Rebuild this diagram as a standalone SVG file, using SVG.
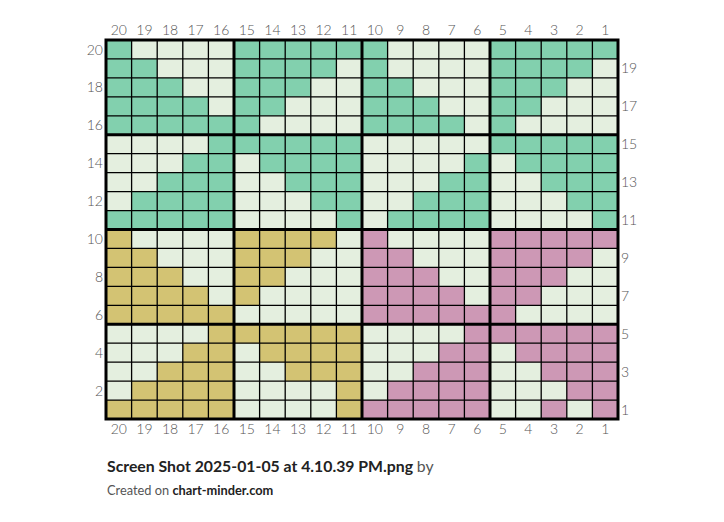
<svg xmlns="http://www.w3.org/2000/svg" width="724" height="522" viewBox="0 0 724 522">
<style>
.g{fill:#82d0ae}.y{fill:#d3c373}.p{fill:#cd98b5}.bg{fill:#e4efdf}
.thin{fill:none;stroke:#000;stroke-width:1.3}
.thick{fill:none;stroke:#000;stroke-width:3}
.lab{font-family:Lato,"Liberation Sans",sans-serif;font-size:14px;font-weight:300;fill:#555}
.t{font-family:Lato,"Liberation Sans",sans-serif;fill:#222}
</style>
<rect width="724" height="522" fill="#fff"/>
<g id="chart" transform="translate(106,40) scale(25.6,18.95)">
  <rect class="bg" x="0" y="0" width="20" height="20"/>
  <g id="green">
    <path class="g" d="M0,0H1V1H2V2H3V3H4V4H5V5H0Z M5,0H10V1H9V2H8V3H7V4H6V5H5Z M10,0H11V2H12V3H13V4H14V5H10Z M15,0H20V1H19V2H18V3H17V4H16V5H15Z M4,5H5V10H0V9H1V8H2V7H3V6H4Z M5,5H10V10H9V9H8V8H7V7H6V6H5Z M14,6H15V10H11V9H12V8H13V7H14Z M15,5H20V10H19V9H18V8H17V7H16V6H15Z"/>
  </g>
  <g id="yellow">
    <path class="y" d="M0,10H1V11H2V12H3V13H4V14H5V15H0Z M5,10H9V11H8V12H7V13H6V14H5Z M4,15H5V20H0V19H1V18H2V17H3V16H4Z M5,15H10V20H9V18H7V17H6V16H5Z"/>
  </g>
  <g id="pink">
    <path class="p" d="M10,10H11V11H12V12H13V13H14V14H15V15H10Z M15,10H20V11H19V12H18V13H17V14H16V15H15Z M14,15H15V20H10V19H11V18H12V17H13V16H14Z M15,15H20V19H18V18H17V17H16V16H15Z M17,19H18V20H17Z M19,19H20V20H19Z"/>
  </g>
  <g id="grid">
    <path class="thin" vector-effect="non-scaling-stroke" d="M1,0V20M2,0V20M3,0V20M4,0V20M6,0V20M7,0V20M8,0V20M9,0V20M11,0V20M12,0V20M13,0V20M14,0V20M16,0V20M17,0V20M18,0V20M19,0V20M0,1H20M0,2H20M0,3H20M0,4H20M0,6H20M0,7H20M0,8H20M0,9H20M0,11H20M0,12H20M0,13H20M0,14H20M0,16H20M0,17H20M0,18H20M0,19H20"/>
    <path class="thick" vector-effect="non-scaling-stroke" d="M0,0H20V20H0Z M5,0V20M10,0V20M15,0V20M0,5H20M0,10H20M0,15H20"/>
  </g>
</g>
<g id="top-labels" class="lab" text-anchor="middle">
  <text x="118.8" y="35">20</text><text x="144.4" y="35">19</text><text x="170" y="35">18</text><text x="195.6" y="35">17</text><text x="221.2" y="35">16</text>
  <text x="246.8" y="35">15</text><text x="272.4" y="35">14</text><text x="298" y="35">13</text><text x="323.6" y="35">12</text><text x="349.2" y="35">11</text>
  <text x="374.8" y="35">10</text><text x="400.4" y="35">9</text><text x="426" y="35">8</text><text x="451.6" y="35">7</text><text x="477.2" y="35">6</text>
  <text x="502.8" y="35">5</text><text x="528.4" y="35">4</text><text x="554" y="35">3</text><text x="579.6" y="35">2</text><text x="605.2" y="35">1</text>
</g>
<g id="bottom-labels" class="lab" text-anchor="middle">
  <text x="118.8" y="434">20</text><text x="144.4" y="434">19</text><text x="170" y="434">18</text><text x="195.6" y="434">17</text><text x="221.2" y="434">16</text>
  <text x="246.8" y="434">15</text><text x="272.4" y="434">14</text><text x="298" y="434">13</text><text x="323.6" y="434">12</text><text x="349.2" y="434">11</text>
  <text x="374.8" y="434">10</text><text x="400.4" y="434">9</text><text x="426" y="434">8</text><text x="451.6" y="434">7</text><text x="477.2" y="434">6</text>
  <text x="502.8" y="434">5</text><text x="528.4" y="434">4</text><text x="554" y="434">3</text><text x="579.6" y="434">2</text><text x="605.2" y="434">1</text>
</g>
<g id="left-labels" class="lab" text-anchor="end">
  <text x="103" y="54.5">20</text><text x="103" y="92.4">18</text><text x="103" y="130.3">16</text><text x="103" y="168.2">14</text><text x="103" y="206.1">12</text>
  <text x="103" y="244">10</text><text x="103" y="281.9">8</text><text x="103" y="319.8">6</text><text x="103" y="357.7">4</text><text x="103" y="395.6">2</text>
</g>
<g id="right-labels" class="lab" text-anchor="start">
  <text x="621" y="73.4">19</text><text x="621" y="111.3">17</text><text x="621" y="149.2">15</text><text x="621" y="187.1">13</text><text x="621" y="225">11</text>
  <text x="621" y="262.9">9</text><text x="621" y="300.8">7</text><text x="621" y="338.7">5</text><text x="621" y="376.6">3</text><text x="621" y="414.5">1</text>
</g>
<g id="caption">
  <text class="t" x="107" y="472" font-size="15.8" font-weight="bold">Screen Shot 2025-01-05 at 4.10.39 PM.png <tspan font-weight="normal" fill="#555">by</tspan></text>
  <text class="t" x="107" y="495" font-size="12.8"><tspan fill="#555">Created on </tspan><tspan font-weight="bold">chart-minder.com</tspan></text>
</g>
</svg>
